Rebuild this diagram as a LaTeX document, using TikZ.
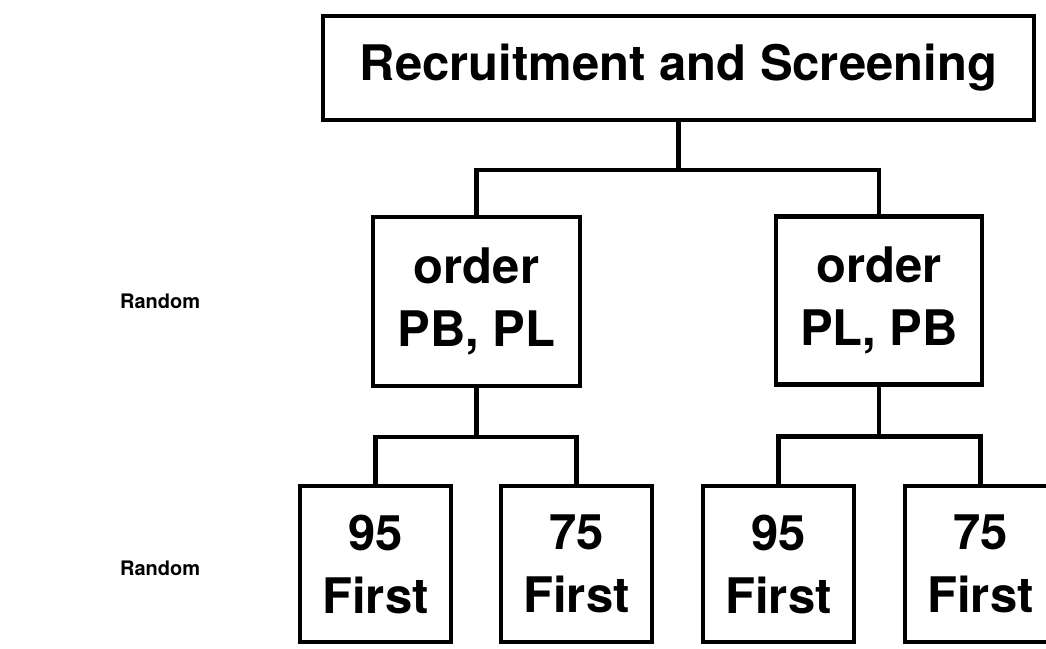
\documentclass[tikz,border=0pt]{standalone}
\usepackage{fontspec}
\setmainfont{TeX Gyre Heros}
\begin{document}
\begin{tikzpicture}[x=1pt,y=-1pt,
  line width=4.3pt,
  box/.style={draw, rectangle, inner sep=0pt, align=center,
    font=\fontsize{49}{63}\selectfont\bfseries},
  conn/.style={draw, line width=4.6pt},
  lab/.style={anchor=west, inner sep=0pt, font=\fontsize{20}{24}\selectfont\bfseries}]
\useasboundingbox (0,0) rectangle (1046,648);
% top
\node[box, minimum width=711pt, minimum height=104pt] (top) at (678.5,68) {Recruitment and Screening};
% middle
\node[box, minimum width=207pt, minimum height=169pt] (ml) at (476.5,301.5) {order\\PB, PL};
\node[box, minimum width=206pt, minimum height=168pt] (mr) at (879,300.5) {order\\PL, PB};
% bottom
\node[box, minimum width=151pt, minimum height=156pt] (b1) at (375.5,564) {95\\First};
\node[box, minimum width=151pt, minimum height=156pt] (b2) at (576.5,564) {75\\First};
\node[box, minimum width=151pt, minimum height=156pt] (b3) at (778.5,564) {95\\First};
\node[box, minimum width=151pt, minimum height=156pt] (b4) at (980.5,564) {75\\First};
% labels
\node[lab] (r1) at (118,301) {Random};
\node[lab] (r2) at (118,568) {Random};
% connectors
\draw[conn] (top.south) -- ++(0,48) coordinate (j1);
\draw[conn] (ml.north) |- (j1) -| (mr.north);
\draw[conn] (ml.south) -- ++(0,49) coordinate (j2);
\draw[conn] (b1.north) |- (j2) -| (b2.north);
\draw[conn] (mr.south) -- ++(0,50) coordinate (j3);
\draw[conn] (b3.north) |- (j3) -| (b4.north);
\end{tikzpicture}
\end{document}
